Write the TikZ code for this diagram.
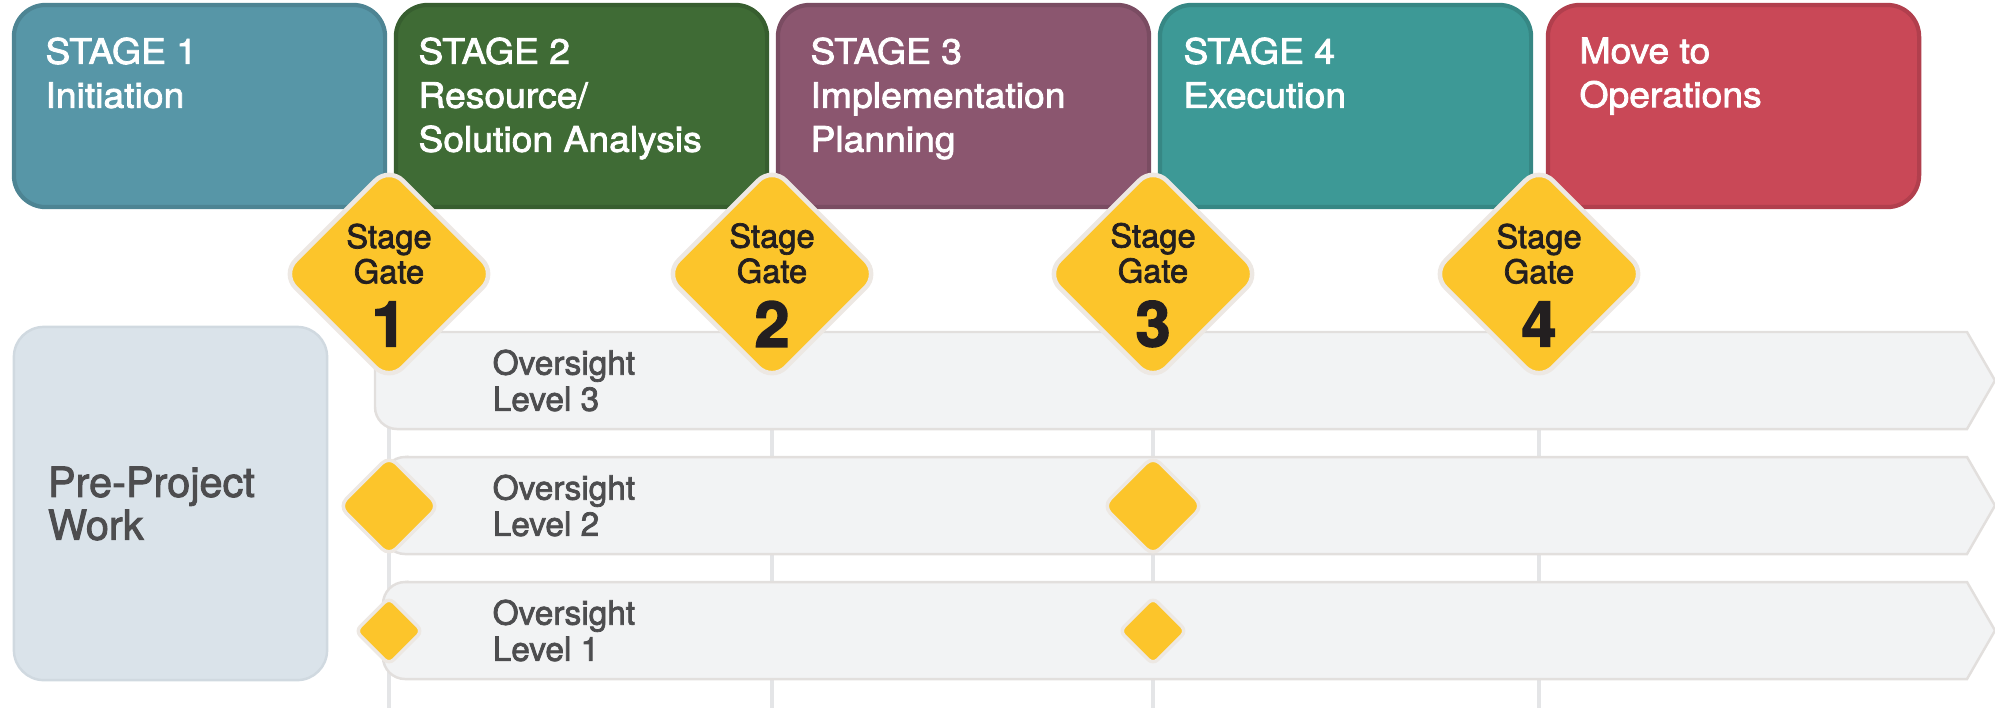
\documentclass[tikz,border=0pt]{standalone}
\usepackage{fontspec}
\setmainfont{TeX Gyre Heros}[FakeBold=2.2]
\newfontfamily\stagefont{TeX Gyre Heros}[FakeBold=2.2, FakeStretch=1.06]
\usetikzlibrary{shapes.geometric,positioning}

\definecolor{stageone}{HTML}{5796A7}
\definecolor{stagetwo}{HTML}{3F6B35}
\definecolor{stagethree}{HTML}{8B566F}
\definecolor{stagefour}{HTML}{3D9996}
\definecolor{stagefive}{HTML}{C94857}
\definecolor{gateyellow}{HTML}{FCC52B}
\definecolor{gateedge}{HTML}{EDE8E3}
\definecolor{barfill}{HTML}{F2F3F4}
\definecolor{baredge}{HTML}{E2DFDD}
\definecolor{prefill}{HTML}{DAE3EA}
\definecolor{preedge}{HTML}{D0D9E0}
\definecolor{vlinecol}{HTML}{E4E5E7}
\definecolor{textgray}{HTML}{4D4D4F}
\definecolor{gatetext}{HTML}{231F20}

\pgfdeclarelayer{bg}
\pgfsetlayers{bg,main}

\tikzset{
  stagebox/.style={rectangle, rounded corners=9pt, minimum width=3.71cm,
    minimum height=2.02cm, inner sep=0, line width=1.2pt},
  stagetext/.style={font=\stagefont\fontsize{10}{12.5}\selectfont, text=white,
    align=left, inner sep=0},
  gate/.style={diamond, aspect=1, fill=gateyellow, draw=gateedge,
    line width=1.3pt, rounded corners=5.5pt, minimum width=2.16cm,
    minimum height=2.16cm, inner sep=0},
  smallgate/.style={gate, line width=1pt, rounded corners=2.8pt},
  gatelabel/.style={font=\fontsize{9.3}{10}\selectfont, text=gatetext,
    align=center, inner sep=0},
  obar/.style={fill=barfill, draw=baredge, line width=0.7pt},
  leveltext/.style={font=\fontsize{9.5}{10.3}\selectfont, text=textgray,
    align=left, inner sep=0, anchor=west},
  prebox/.style={rectangle, rounded corners=8.5pt, fill=prefill, draw=preedge,
    line width=0.7pt, minimum width=3.13cm, minimum height=3.53cm,
    inner xsep=0.34cm, text width=2.45cm, align=left, text=textgray,
    font=\fontsize{11.8}{12.2}\selectfont},
  vline/.style={draw=vlinecol, line width=1.4pt}
}

\begin{document}
\begin{tikzpicture}[x=0.01cm, y=0.01cm]
  \useasboundingbox (0,0) rectangle (1995,-708);

  % oversight levels
  \foreach \lev/\by/\bx in {3/332/375, 2/457/383, 1/582/383}{
    \draw[obar] (\bx+22,-\by) -- (1967,-\by) -- (1995,-\by-48.5)
      -- (1967,-\by-97) -- (\bx+22,-\by-97)
      arc[start angle=270, end angle=180, radius=0.22cm]
      -- (\bx,-\by-22) arc[start angle=180, end angle=90, radius=0.22cm] -- cycle;
    \node[leveltext] (lv\lev) at (492,-\by-48.5) {Oversight\\Level \lev};
  }

  \node[prebox] (pre) at (170.5,-503.5) {Pre-Project\\Work};

  % stages
  \foreach \i/\bx/\col/\dx/\txt in {1/14/stageone/0.33cm/{STAGE 1\\Initiation},
      2/396/stagetwo/0.24cm/{STAGE 2\\Resource/\\Solution Analysis},
      3/778/stagethree/0.34cm/{STAGE 3\\Implementation\\Planning},
      4/1160/stagefour/0.25cm/{STAGE 4\\Execution},
      5/1548/stagefive/0.33cm/{Move to\\Operations}}{
    \node[stagebox, fill=\col, draw=\col!88!black] (s\i) at (\bx+185.5,-106) {};
    \node[stagetext, below right=0.34cm and \dx of s\i.north west] (t\i) {\txt};
  }

  % stage gates
  \foreach \i/\gx in {1/389, 2/772, 3/1153, 4/1539}{
    \node[gate] (g\i) at (\gx,-274) {};
    \node[gatelabel] (gl\i) at ([yshift=-0.11cm]g\i.center)
      {Stage\\Gate\\[4pt]{\fontsize{18}{18}\selectfont\bfseries \i}};
  }
  \node[smallgate, minimum width=1.01cm, minimum height=1.01cm] (m2a) at (389,-506) {};
  \node[smallgate, minimum width=1.01cm, minimum height=1.01cm] (m2b) at (1153,-506) {};
  \node[smallgate, minimum width=0.68cm, minimum height=0.68cm, rounded corners=1.8pt] (m1a) at (389,-631) {};
  \node[smallgate, minimum width=0.68cm, minimum height=0.68cm, rounded corners=1.8pt] (m1b) at (1153,-631) {};

  \begin{pgfonlayer}{bg}
    \foreach \i in {1,...,4}
      \draw[vline] (g\i.center) -- (g\i.center |- 0,-708);
  \end{pgfonlayer}
\end{tikzpicture}
\end{document}
